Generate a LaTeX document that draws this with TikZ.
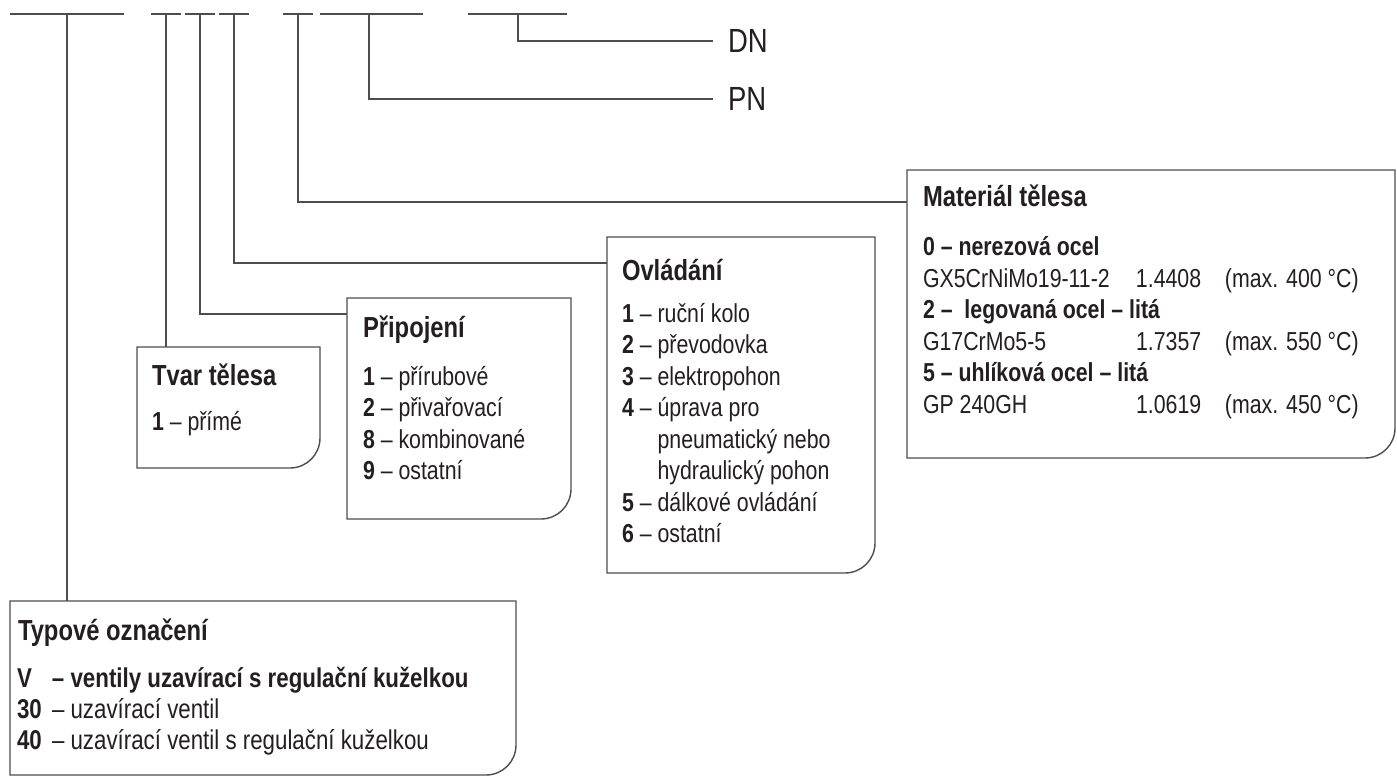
\documentclass[tikz,border=0pt]{standalone}
\usepackage{fontspec}
\setmainfont{Liberation Sans}[FakeStretch=0.82]
\definecolor{lc}{HTML}{4D4D4D}
\definecolor{tc}{HTML}{231F20}
\newcommand\myBody{\fontsize{26}{31.6}\selectfont}
\newcommand\myBodyL{\fontsize{27.2}{31.6}\selectfont}
\newcommand\myHead{\fontsize{29}{34}\selectfont\bfseries}
\newcommand\myBig{\fontsize{33.5}{40}\selectfont}
\newcommand\rbox[1]{\draw[frame] (#1.south west) -- (#1.north west) -- (#1.north east) -- ([yshift=30pt]#1.south east) .. controls ([yshift=13.4pt]#1.south east) and ([xshift=-13.4pt]#1.south east) .. ([xshift=-30pt]#1.south east) -- cycle;}
\tikzset{
  wire/.style={draw=lc, line width=1.4pt},
  frame/.style={draw=lc, line width=1.4pt},
  area/.style={inner sep=0pt, outer sep=0pt, anchor=north west},
  txt/.style={inner sep=0pt, outer sep=0pt, anchor=base west, text=tc, font=\myBody},
  txtL/.style={txt, font=\myBodyL},
  head/.style={txt, font=\myHead},
  big/.style={inner sep=0pt, inner xsep=15pt, outer sep=0pt, anchor=west, text=tc, font=\myBig},
}
\begin{document}
\begin{tikzpicture}[x=1pt,y=-1pt]
\useasboundingbox (0,0) rectangle (1397,778);
% top code segments
\coordinate (s1a) at (10,14);  \coordinate (s1b) at (124,14); \coordinate (s1m) at (67,14);
\coordinate (s2a) at (151,14); \coordinate (s2b) at (181,14); \coordinate (s2m) at (166,14);
\coordinate (s3a) at (185,14); \coordinate (s3b) at (215,14); \coordinate (s3m) at (200,14);
\coordinate (s4a) at (219,14); \coordinate (s4b) at (249,14); \coordinate (s4m) at (234,14);
\coordinate (s5a) at (283,14); \coordinate (s5b) at (313,14); \coordinate (s5m) at (298,14);
\coordinate (s6a) at (320,14); \coordinate (s6b) at (423,14); \coordinate (s6m) at (369,14);
\coordinate (s7a) at (468,14); \coordinate (s7b) at (567,14); \coordinate (s7m) at (518,14);
\foreach \s in {s1,s2,s3,s4,s5,s6,s7} {\draw[wire] (\s a) -- (\s b);}

% boxes
\node[area, minimum width=506pt, minimum height=174pt] (typ) at (10,601) {};
\node[area, minimum width=183pt, minimum height=121pt] (tvar) at (137,347) {};
\node[area, minimum width=224pt, minimum height=221pt] (pri) at (347,298) {};
\node[area, minimum width=268pt, minimum height=336pt] (ovl) at (607,237) {};
\node[area, minimum width=488pt, minimum height=288pt] (mat) at (907,170) {};
\rbox{typ}\rbox{tvar}\rbox{pri}\rbox{ovl}\rbox{mat}

% DN / PN labels
\node[big] (dn) at (713,41) {DN};
\node[big] (pn) at (713,99) {PN};

% connectors
\draw[wire] (s1m) -- (s1m |- typ.north);
\draw[wire] (s2m) -- (s2m |- tvar.north);
\draw[wire] (s3m) |- ([yshift=-16pt]pri.north west);
\draw[wire] (s4m) |- ([yshift=-26pt]ovl.north west);
\draw[wire] (s5m) |- ([yshift=-32pt]mat.north west);
\draw[wire] (s6m) |- (pn.west);
\draw[wire] (s7m) |- (dn.west);

% Typové označení
\node[head] (typh) at (18,640) {Typové označení};
\node[txtL] (typ1) at (17,687) {\bfseries\makebox[35pt][l]{V}– ventily uzavírací s regulační kuželkou};
\node[txtL] (typ2) at (17,718) {\makebox[35pt][l]{\bfseries 30}– uzavírací ventil};
\node[txtL] (typ3) at (17,749) {\makebox[35pt][l]{\bfseries 40}– uzavírací ventil s regulační kuželkou};

% Tvar tělesa
\node[head] (tvarh) at (152,385) {Tvar tělesa};
\node[txt] (tvar1) at (152,430) {\textbf{1} – přímé};

% Připojení
\node[head] (prih) at (363,337) {Připojení};
\node[txt] (pri1) at (363,385) {\textbf{1} – přírubové};
\node[txt] (pri2) at (363,416.5) {\textbf{2} – přivařovací};
\node[txt] (pri3) at (363,448) {\textbf{8} – kombinované};
\node[txt] (pri4) at (363,479.5) {\textbf{9} – ostatní};

% Ovládání
\node[head] (ovlh) at (622,280) {Ovládání};
\node[txt] (ovl1) at (622,322) {\textbf{1} – ruční kolo};
\node[txt] (ovl2) at (622,353.5) {\textbf{2} – převodovka};
\node[txt] (ovl3) at (622,385) {\textbf{3} – elektropohon};
\node[txt] (ovl4) at (622,416.5) {\textbf{4} – úprava pro};
\node[txt] (ovl5) at (622,448) {\phantom{\textbf{4} – }pneumatický nebo};
\node[txt] (ovl6) at (622,479.5) {\phantom{\textbf{4} – }hydraulický pohon};
\node[txt] (ovl7) at (622,511) {\textbf{5} – dálkové ovládání};
\node[txt] (ovl8) at (622,542.5) {\textbf{6} – ostatní};

% Materiál tělesa
\node[head] (math) at (923,207) {Materiál tělesa};
\node[txt] (mat1) at (923,255.5) {\bfseries 0 – nerezová ocel};
\node[txt] (mat2) at (923,287) {\makebox[213pt][l]{GX5CrNiMo19-11-2}\makebox[89pt][l]{1.4408}(max. 400 °C)};
\node[txt] (mat3) at (923,318.5) {\bfseries 2 –\ \ legovaná ocel – litá};
\node[txt] (mat4) at (923,350) {\makebox[213pt][l]{G17CrMo5-5}\makebox[89pt][l]{1.7357}(max. 550 °C)};
\node[txt] (mat5) at (923,381.5) {\bfseries 5 – uhlíková ocel – litá};
\node[txt] (mat6) at (923,413) {\makebox[213pt][l]{GP 240GH}\makebox[89pt][l]{1.0619}(max. 450 °C)};
\end{tikzpicture}
\end{document}
